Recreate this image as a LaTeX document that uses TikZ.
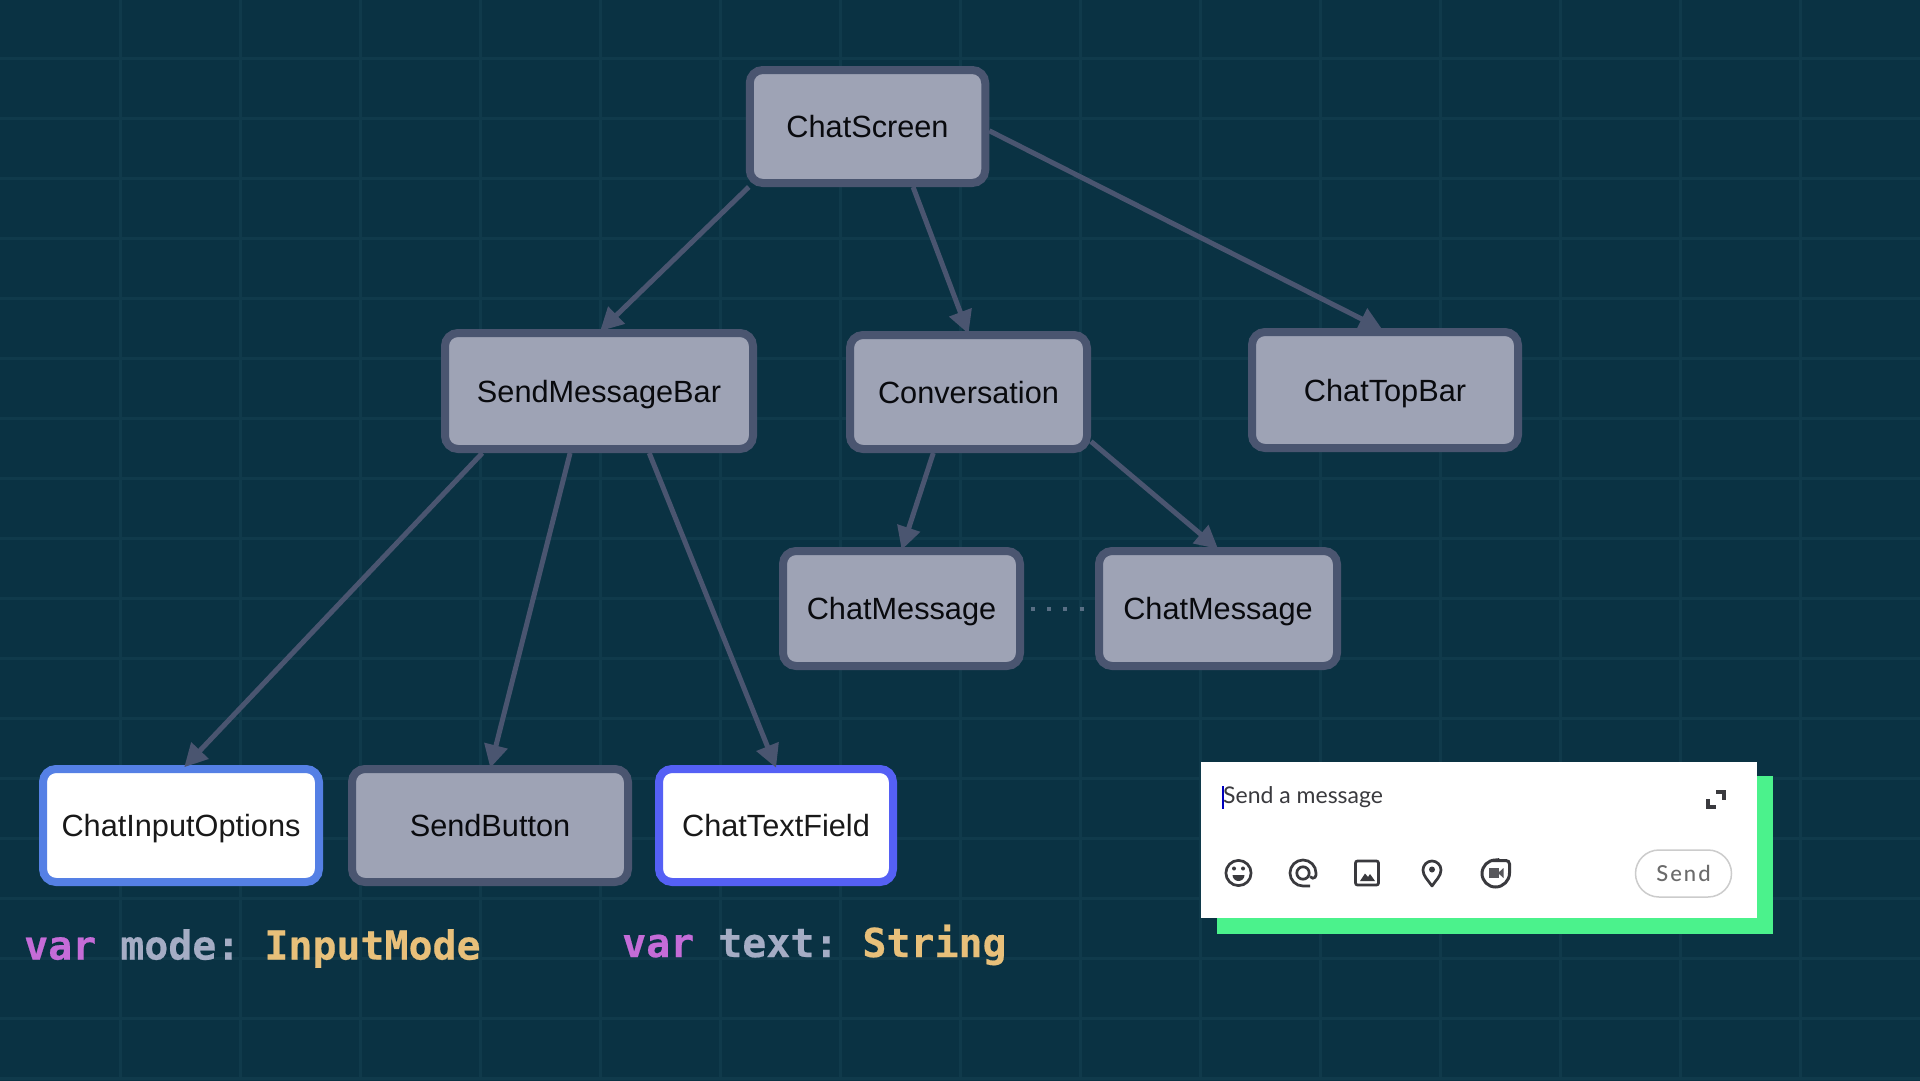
\documentclass[tikz,border=0pt]{standalone}
\usepackage{fontspec}
\setmainfont{Liberation Sans}
\newfontfamily\codefont[BoldFont={DejaVu Sans Mono Bold},BoldFeatures={FakeBold=0.5}]{DejaVu Sans Mono}
\newfontfamily\uifont{Lato}
\newfontfamily\sendfont[LetterSpace=9]{Lato Medium}
\usetikzlibrary{arrows.meta}
\definecolor{bgc}{HTML}{0A3243}
\definecolor{gridc}{HTML}{103A4B}
\definecolor{nodefill}{HTML}{9EA3B5}
\definecolor{nodeline}{HTML}{4A5570}
\definecolor{optline}{HTML}{5580E5}
\definecolor{fieldline}{HTML}{5560F5}
\definecolor{kw}{HTML}{C56CD8}
\definecolor{idc}{HTML}{A5ADC5}
\definecolor{typec}{HTML}{E8C07A}
\definecolor{greenc}{HTML}{4BF28C}
\definecolor{iconc}{HTML}{3A3A3E}
\tikzset{
  comp/.style={draw=nodeline,fill=nodefill,line width=8pt,rounded corners=13pt,inner sep=0pt,
    text=black!88!nodeline,font=\fontsize{30.7}{36}\selectfont,anchor=center,text height=22pt,text depth=0pt},
  active/.style={comp,fill=white,text=black!90},
  edge/.style={draw=nodeline,line width=5pt,shorten >=-3pt,-{Triangle[length=23pt,width=23pt]}},
  code/.style={anchor=base west,inner sep=0pt,font=\frenchspacing\codefont\bfseries\fontsize{39.9}{46}\selectfont},
  icon/.style={draw=iconc,line width=2.7pt},
}
\begin{document}
\begin{tikzpicture}[x=1pt,y=1pt]
\useasboundingbox (0,0) rectangle (1920,-1080);
\fill[bgc] (-5,5) rectangle (1925,-1085);
\foreach \k in {1,...,15} \draw[gridc,line width=3pt] (120*\k,0) -- (120*\k,-1080);
\foreach \k in {1,...,18} \draw[gridc,line width=3pt] (0,-60*\k+2) -- (1920,-60*\k+2);

\node[comp,minimum width=235.5pt,minimum height=113pt] (screen) at (867.5,-126.5) {ChatScreen};
\node[comp,minimum width=308pt,minimum height=116pt] (bar) at (599,-391) {SendMessageBar};
\node[comp,minimum width=237pt,minimum height=114pt] (conv) at (968.5,-392) {Conversation};
\node[comp,minimum width=266pt,minimum height=116pt] (top) at (1385,-390) {ChatTopBar};
\node[comp,minimum width=237pt,minimum height=115pt] (m1) at (901.5,-608.5) {ChatMessage};
\node[comp,minimum width=238pt,minimum height=115pt] (m2) at (1218,-608.5) {ChatMessage};
\node[active,draw=optline,minimum width=276pt,minimum height=113pt] (opts) at (181,-825.5) {ChatInputOptions};
\node[comp,minimum width=276pt,minimum height=113pt] (send) at (490,-825.5) {SendButton};
\node[active,draw=fieldline,minimum width=234pt,minimum height=113pt] (field) at (776,-825.5) {ChatTextField};

\draw[edge] (screen.207.5) -- (bar.87.2);
\draw[edge] (screen.-53.7) -- (conv.91.4);
\draw[edge] (screen.-2.6) -- (top.95.5);
\draw[edge] (bar.208.5) -- (opts.85.3);
\draw[edge] (bar.-115.8) -- (send.89);
\draw[edge] (bar.-51.7) -- (field.91.9);
\draw[edge] (conv.-120.9) -- (m1.89.5);
\draw[edge] (conv.-22.1) -- (m2.92.8);
\draw[draw=nodeline!35!gridc!60!idc,line width=4pt,dash pattern=on 4pt off 12.2pt,shorten >=9pt,shorten <=7pt] (m1) ++(122.5,0) coordinate (gapa) (m2) ++(-123,0) coordinate (gapb) (gapa) -- (gapb);

\node[code] (mode) at (24,-959.5) {\textcolor{kw}{var} \textcolor{idc}{mode:} \textcolor{typec}{InputMode}};
\node[code] (text) at (622,-957) {\textcolor{kw}{var} \textcolor{idc}{text:} \textcolor{typec}{String}};

% message composer
\fill[greenc] (1217,-776) rectangle (1773,-934);
\fill[white] (1201,-762) rectangle (1757,-918);
\draw[color=blue!75!black,line width=1.6pt] (1223,-786) -- (1223,-809);
\node[anchor=base west,inner sep=0pt,text=iconc,font=\uifont\fontsize{23}{27}\selectfont] (hint) at (1223,-803) {Send a message};
% expand icon
\draw[iconc,line width=3.4pt] (1716,-792) -- (1724,-792) -- (1724,-800);
\draw[iconc,line width=3.4pt] (1708,-799) -- (1708,-807) -- (1716,-807);
% smile
\draw[icon] (1238.5,-873) circle (12.6);
\fill[iconc] (1234,-868.5) circle (2);
\fill[iconc] (1243,-868.5) circle (2);
\fill[iconc] (1232.5,-875) -- (1244.5,-875) arc (0:-180:6) -- cycle;
% at
\draw[icon] (1310,-886) -- (1303,-886) arc (-90:-360:13) -- (1316,-875) arc (0:-150:3.2);
\draw[icon] (1303,-873) circle (6.2);
% image
\draw[icon,rounded corners=2pt] (1355.5,-861) rectangle (1378.5,-885);
\fill[iconc] (1360,-881) -- (1365,-873.5) -- (1368,-877) -- (1370,-874) -- (1375,-881) -- cycle;
% pin
\draw[icon,line join=round] (1432,-886) .. controls (1428,-880) and (1423,-876) .. (1423,-870) arc (180:0:9) .. controls (1441,-876) and (1436,-880) .. (1432,-886) -- cycle;
\fill[iconc] (1432,-869.5) circle (3);
% meet
\draw[icon,line width=3pt] (1495,-860.5) -- (1506,-860.5) arc (90:0:3.5) -- (1509.5,-873) arc (0:-90:14) arc (-90:-270:13.5) -- cycle;
\fill[iconc!85!white] (1488.5,-868) rectangle (1498.5,-878);
\fill[iconc!85!white] (1498,-873) -- (1503.5,-868) -- (1503.5,-878) -- cycle;
% send
\node[draw=black!20,line width=1.5pt,rounded corners=23.5pt,minimum width=96pt,minimum height=47pt,inner sep=0pt,text=black!58,font=\sendfont\fontsize{22}{26}\selectfont] (sendbtn) at (1683.5,-873.5) {Send};
\end{tikzpicture}
\end{document}
